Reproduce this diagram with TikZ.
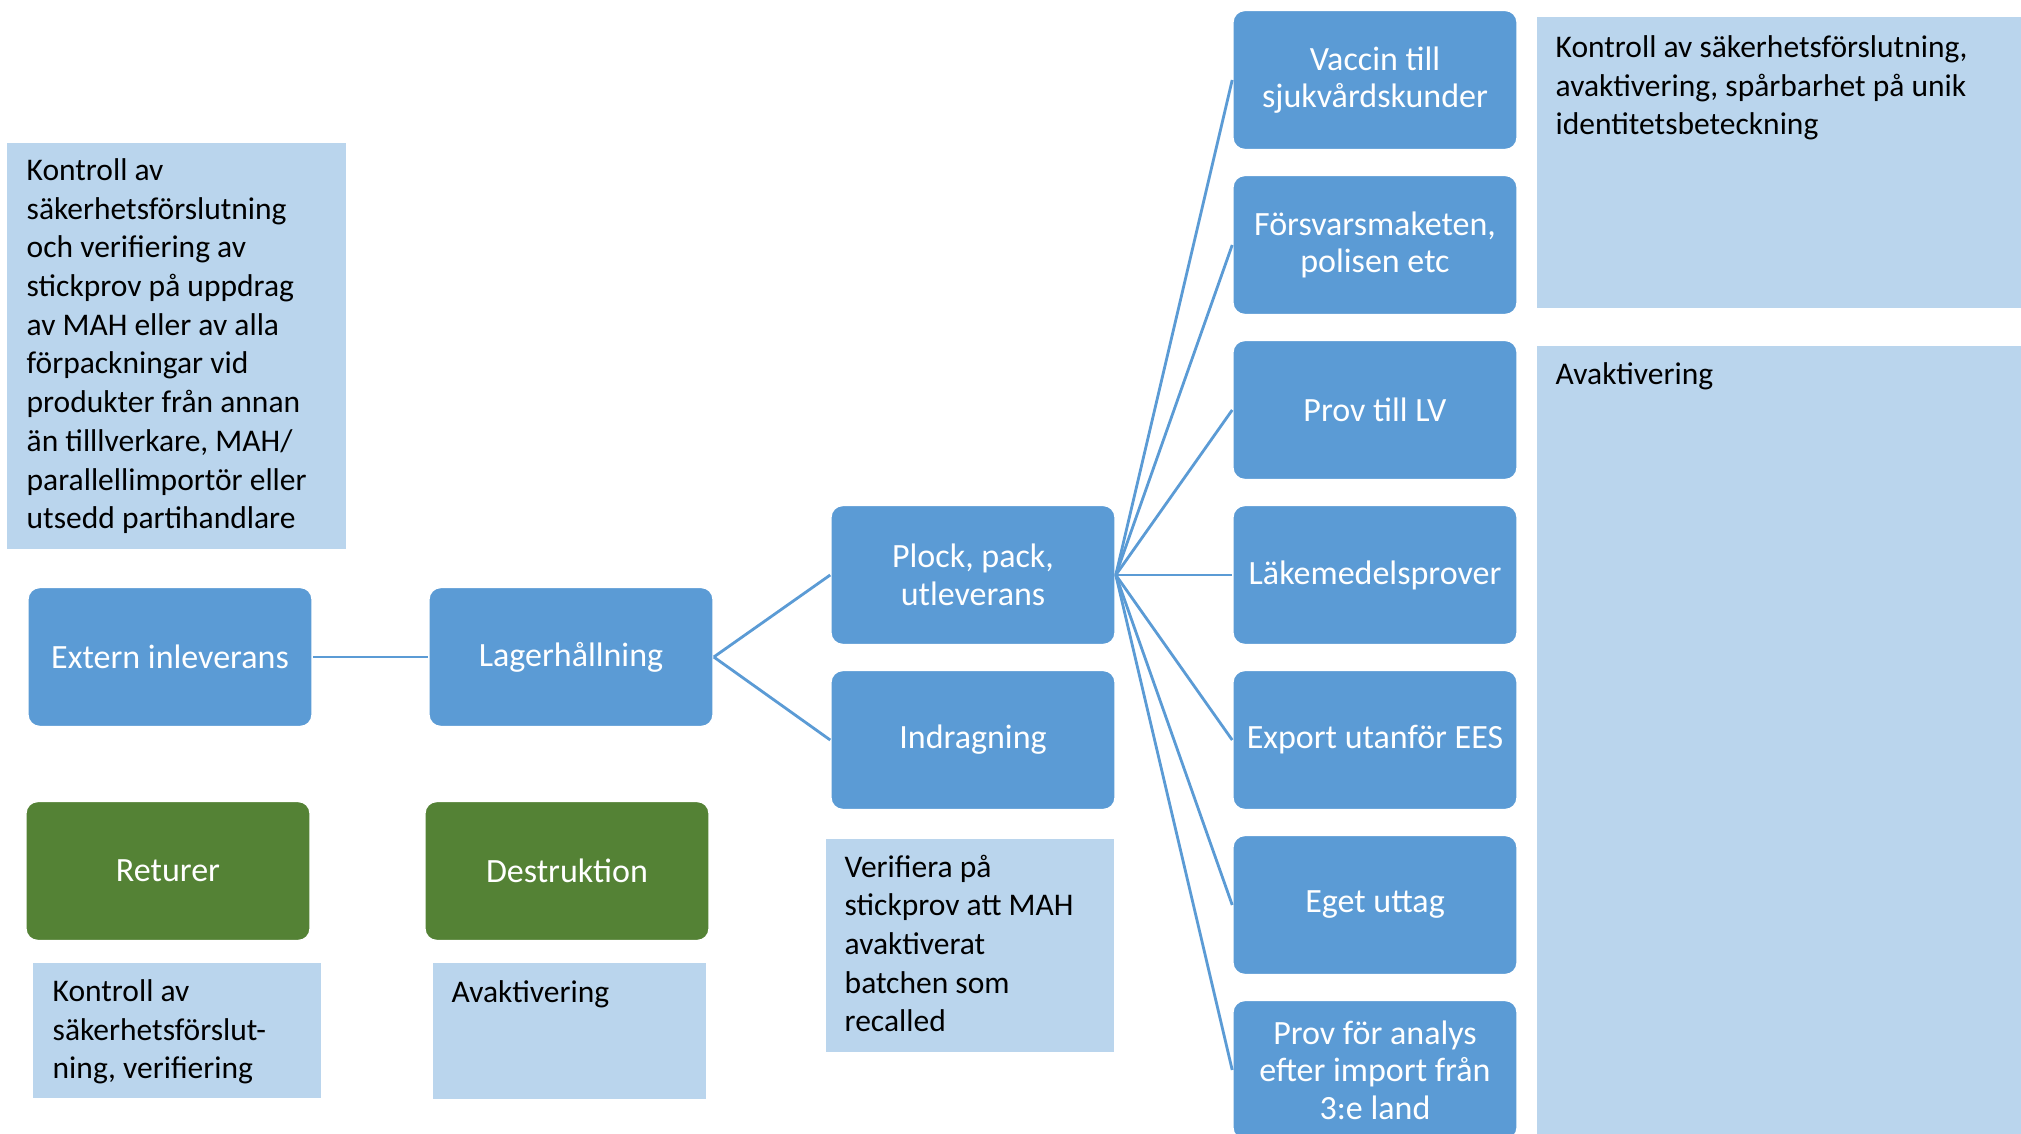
\documentclass[tikz,border=0pt]{standalone}
\usepackage{fontspec}
\setmainfont{Carlito}
\definecolor{boxblue}{HTML}{5B9BD5}
\definecolor{boxgreen}{HTML}{548235}
\definecolor{noteblue}{HTML}{BAD5ED}

\begin{document}
\begin{tikzpicture}[x=0.01cm, y=-0.01cm]
    \tikzset{box/.style = {shape=rectangle, rounded corners=3.4pt, fill=boxblue, draw=white, line width=0.4pt, text=white, minimum width=2.84cm, minimum height=1.39cm, align=center, inner sep=0pt, font=\fontsize{9.67}{10.64}\selectfont}}
    \tikzset{greenbox/.style = {box, fill=boxgreen}}
    \tikzset{note/.style = {shape=rectangle, fill=noteblue, inner sep=0pt, anchor=north west}}
    \tikzset{notetext/.style = {anchor=north west, align=left, inner sep=0pt, font=\fontsize{8.96}{11}\selectfont, execute at begin node={\rule{0pt}{8pt}}}}
    \tikzset{edge/.style = {draw=boxblue, line width=0.8pt}}

    \useasboundingbox (0,0) rectangle (2021,1134);

    % notes (text top = first baseline - 8pt strut)
    \node[note, minimum width=3.39cm, minimum height=4.06cm] (kontroll) at (6,142) {};
    \node[notetext] (kontrolltext) at ([shift={(20,16)}]kontroll.north west) {Kontroll av\\ säkerhetsförslutning\\ och verifiering av\\ stickprov på uppdrag\\ av MAH eller av alla\\ förpackningar vid\\ produkter från annan\\ än tilllverkare, MAH/\\ parallellimportör eller\\ utsedd partihandlare};
    \node[note, minimum width=2.88cm, minimum height=1.35cm] (retnote) at (32,962) {};
    \node[notetext] (retnotetext) at ([shift={(20,17)}]retnote.north west) {Kontroll av\\ säkerhetsförslut-\\ ning, verifiering};
    \node[note, minimum width=2.73cm, minimum height=1.36cm] (destnote) at (432,962) {};
    \node[notetext] (destnotetext) at ([shift={(19,12)}]destnote.north west) {Avaktivering};
    \node[note, minimum width=2.88cm, minimum height=2.13cm] (recall) at (825,838) {};
    \node[notetext] (recalltext) at ([shift={(19,16)}]recall.north west) {Verifiera på\\ stickprov att MAH\\ avaktiverat\\ batchen som\\ recalled};
    \node[note, minimum width=4.85cm, minimum height=2.91cm] (spar) at (1536,16) {};
    \node[notetext] (spartext) at ([shift={(19,19)}]spar.north west) {Kontroll av säkerhetsförslutning,\\ avaktivering, spårbarhet på unik\\ identitetsbeteckning};
    \node[note, minimum width=4.85cm, minimum height=7.89cm] (avakt) at (1536,345) {};
    \node[notetext] (avakttext) at ([shift={(19,11)}]avakt.north west) {Avaktivering};

    % vertices
    \node[box] (ext) at (170,657) {Extern inleverans};
    \node[box] (lager) at (571,657) {Lagerhållning};
    \node[greenbox] (ret) at (168,871) {Returer};
    \node[greenbox] (dest) at (567,871) {Destruktion};
    \node[box] (plock) at (973,575) {Plock, pack,\\ utleverans};
    \node[box] (indr) at (973,740) {Indragning};
    \node[box] (vaccin) at (1375,80) {Vaccin till\\ sjukvårdskunder};
    \node[box] (forsvar) at (1375,245) {Försvarsmaketen,\\ polisen etc};
    \node[box] (provlv) at (1375,410) {Prov till LV};
    \node[box] (lakprov) at (1375,575) {Läkemedelsprover};
    \node[box] (export) at (1375,740) {Export utanför EES};
    \node[box] (eget) at (1375,905) {Eget uttag};
    \node[box] (analys) at (1375,1070) {Prov för analys\\ efter import från\\ 3:e land};

    % edges
    \draw[edge] (ext) -- (lager);
    \draw[edge] (lager.east) -- (plock.west);
    \draw[edge] (lager.east) -- (indr.west);
    \draw[edge] (plock.east) -- (vaccin.west);
    \draw[edge] (plock.east) -- (forsvar.west);
    \draw[edge] (plock.east) -- (provlv.west);
    \draw[edge] (plock.east) -- (lakprov.west);
    \draw[edge] (plock.east) -- (export.west);
    \draw[edge] (plock.east) -- (eget.west);
    \draw[edge] (plock.east) -- (analys.west);
\end{tikzpicture}
\end{document}
